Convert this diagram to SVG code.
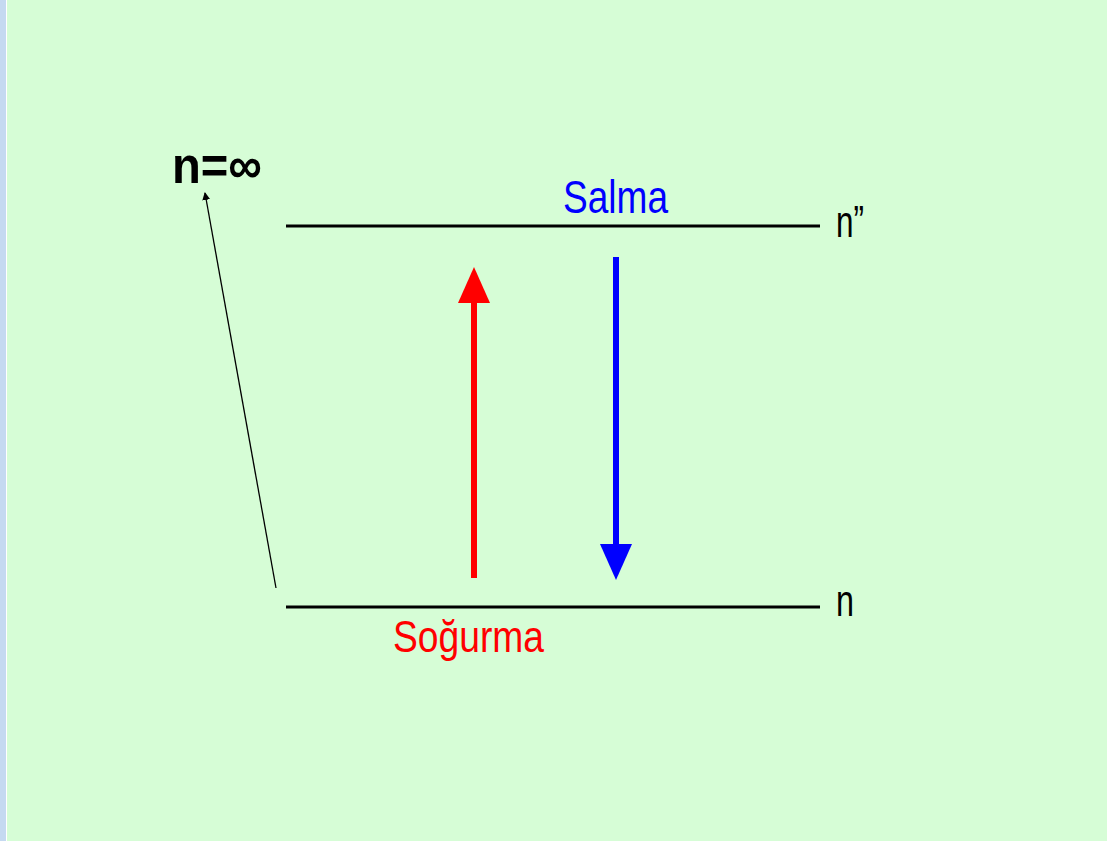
<svg xmlns="http://www.w3.org/2000/svg" width="1107" height="841" viewBox="0 0 1107 841">
<defs>
<style>
.lvl{stroke:#000;stroke-width:3;fill:none}
.lbl{font-family:"Liberation Sans",Arial,sans-serif}
</style>
<marker id="thin" markerWidth="8" markerHeight="8" refX="7" refY="4" orient="auto" markerUnits="userSpaceOnUse">
<path d="M0,0 L8,4 L0,8 Z" fill="#000"/>
</marker>
</defs>
<rect x="0" y="0" width="1107" height="841" fill="#d6fdd6"/>
<rect x="0" y="0" width="6" height="841" fill="#c5d9f1"/>
<rect x="6" y="0" width="1" height="841" fill="#ffffff"/>
<g id="level-top">
<line class="lvl" x1="286" y1="226" x2="820" y2="226"/>
<text class="lbl" x="836" y="237" font-size="44" fill="#000" textLength="28" lengthAdjust="spacingAndGlyphs">n”</text>
</g>
<g id="level-bottom">
<line class="lvl" x1="286" y1="607" x2="820" y2="607"/>
<text class="lbl" x="836" y="616" font-size="44" fill="#000" textLength="18" lengthAdjust="spacingAndGlyphs">n</text>
</g>
<g id="label-inf">
<text class="lbl" x="172" y="183" font-size="52" font-weight="bold" fill="#000" textLength="90" lengthAdjust="spacingAndGlyphs">n=∞</text>
</g>
<g id="label-salma">
<text class="lbl" x="563" y="213" font-size="46" fill="#0000ff" textLength="105" lengthAdjust="spacingAndGlyphs">Salma</text>
</g>
<g id="label-sogurma">
<text class="lbl" x="393" y="652" font-size="45" fill="#ff0000" textLength="151" lengthAdjust="spacingAndGlyphs">Soğurma</text>
</g>
<g id="connectors">
<line x1="276" y1="588" x2="205" y2="193" stroke="#000" stroke-width="1.3" marker-end="url(#thin)"/>
<line x1="474" y1="578" x2="474" y2="300" stroke="#ff0000" stroke-width="6"/>
<polygon points="474,267 490,303 458,303" fill="#ff0000"/>
<line x1="616" y1="257" x2="616" y2="547" stroke="#0000ff" stroke-width="6"/>
<polygon points="616,580 600,544 632,544" fill="#0000ff"/>
</g>
</svg>
